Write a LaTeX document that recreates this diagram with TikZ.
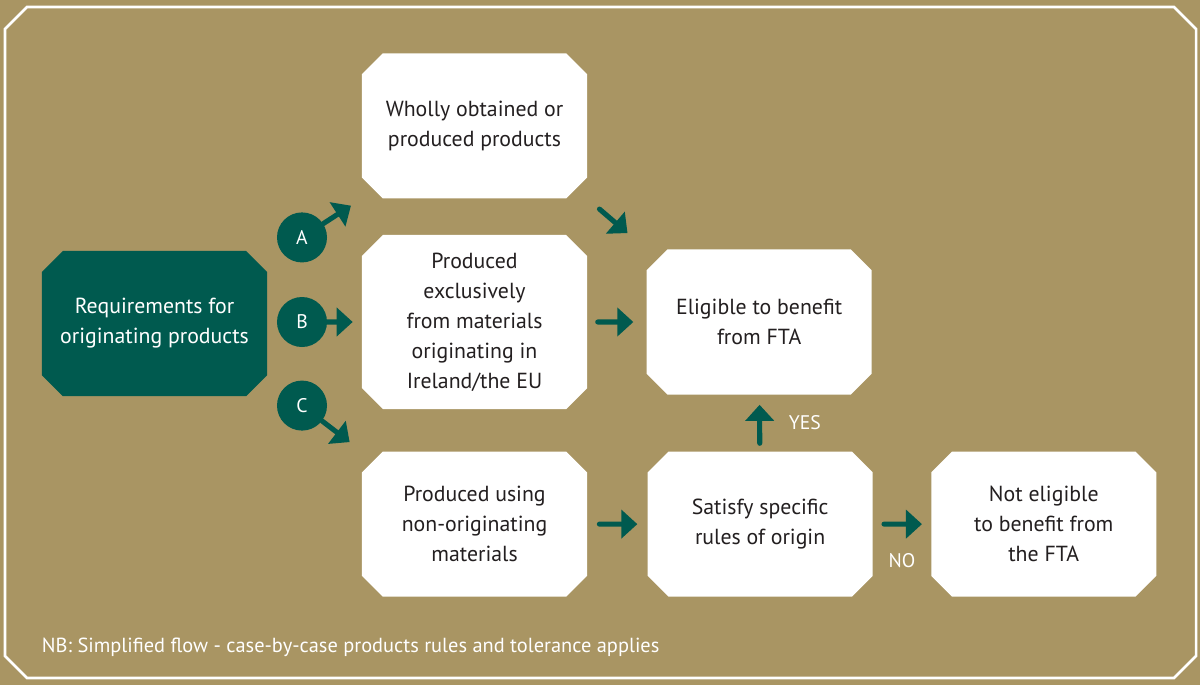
\documentclass[tikz,border=0pt]{standalone}
\usepackage{fontspec}
\setmainfont{PT Sans}
\usetikzlibrary{positioning,shapes.misc,arrows.meta}
\definecolor{tanbg}{HTML}{A99563}
\definecolor{fgreen}{HTML}{005A4F}
\definecolor{ink}{HTML}{231F20}

\begin{document}
\begin{tikzpicture}[x=0.025cm,y=-0.025cm,
  box/.style={chamfered rectangle,chamfered rectangle xsep=0.26cm,chamfered rectangle ysep=0.26cm,fill=white,text=ink,minimum width=5.625cm,minimum height=3.625cm,inner sep=0pt,align=center,font=\fontsize{15.5}{21.3}\selectfont},
  tall/.style={minimum height=4.35cm},
  start box/.style={box,fill=fgreen,text=white},
  letter/.style={circle,fill=fgreen,text=white,minimum size=1.25cm,inner sep=0pt,font=\fontsize{14}{14}\selectfont},
  flow/.style={color=fgreen,line width=3.6pt,line cap=round,-{Triangle[length=11.4pt,width=20pt]}},
  lbl/.style={text=white,font=\fontsize{14}{14}\selectfont}]

    \fill[tanbg] (0,0) rectangle (1200,685);
    \useasboundingbox (0,0) rectangle (1200,685);
    % frame
    \draw[white,line width=1.8pt] (5,29) -- (27,7) -- (1174,7) -- (1196,29) -- (1196,656) -- (1174,678) -- (27,678) -- (5,656) -- cycle;

    \node[start box] (req) at (154.5,323.5) {Requirements for\\originating products};
    \node[box,tall] (excl) at (474.5,322) {Produced\\exclusively\\from materials\\originating in\\Ireland/the EU};
    \node[box] (whole) [above=0.9cm of excl] {Wholly obtained or\\produced products};
    \node[box] (using) [below=1.05cm of excl] {Produced using\\non-originating\\materials};
    \node[box] (elig) [right=1.475cm of excl] {Eligible to benefit\\from FTA};
    \node[box] (satisfy) [right=1.5cm of using] {Satisfy specific\\rules of origin};
    \node[box] (noelig) [right=1.45cm of satisfy] {Not eligible\\to benefit from\\the FTA};

    \node[letter] (B) at (302,322) {B};
    \node[letter] (A) [above=0.85cm of B] {A};
    \node[letter] (C) [below=0.825cm of B] {C};

    \draw[flow,shorten >=0.32cm] (A) -- (whole.west |- whole.south);
    \draw[flow,shorten >=0.225cm] (B) -- (excl);
    \draw[flow,shorten >=0.38cm] (C) -- (using.west |- using.north);
    \draw[flow,shorten <=0.4cm,shorten >=0.62cm] (whole.east |- whole.south) -- (elig.west |- elig.north);
    \draw[flow,shorten <=0.26cm,shorten >=0.325cm] (excl) -- (elig);
    \draw[flow,shorten <=0.3cm,shorten >=0.25cm] (using) -- (satisfy);
    \draw[flow,shorten <=0.2cm,shorten >=0.25cm] (satisfy) -- node[lbl,right=0.55cm] {YES} (elig);
    \draw[flow,shorten <=0.275cm,shorten >=0.225cm] (satisfy) -- node[lbl,below=0.55cm] {NO} (noelig);

    \node[text=white,anchor=west,font=\fontsize{14.5}{14.5}\selectfont] (note) at (37,647) {NB: Simplified flow - case-by-case products rules and tolerance applies};
\end{tikzpicture}
\end{document}
